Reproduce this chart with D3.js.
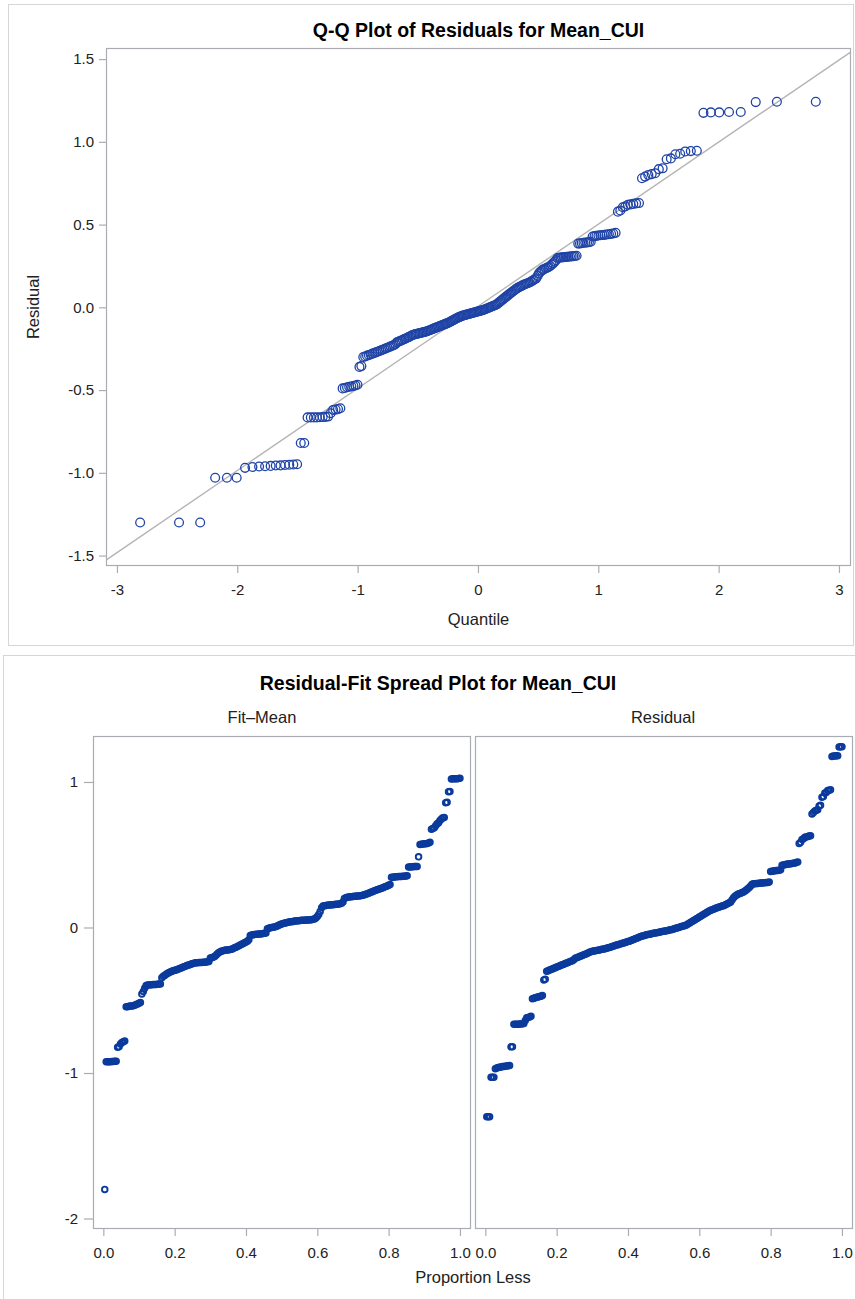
<!DOCTYPE html>
<html><head><meta charset="utf-8">
<script src="https://cdn.jsdelivr.net/npm/d3@7"></script>
<style>
body{margin:0;background:#fff;}
svg{display:block;font-family:"Liberation Sans",Arial,sans-serif;}
</style>
</head><body>
<svg id="c" width="855" height="1299"></svg>
<script>
const residuals = [
-1.30,-1.30,-1.30,-1.03,-1.03,-1.03,-0.97,-0.965,-0.962,-0.96,
-0.958,-0.956,-0.955,-0.953,-0.951,-0.95,-0.948,-0.82,-0.82,-0.665,
-0.665,-0.665,-0.665,-0.664,-0.663,-0.662,-0.66,-0.64,-0.62,-0.618,
-0.615,-0.61,-0.49,-0.487,-0.483,-0.48,-0.478,-0.475,-0.472,-0.468,
-0.36,-0.355,-0.30,-0.297,-0.292,-0.288,-0.285,-0.28,-0.276,-0.272,
-0.268,-0.264,-0.26,-0.256,-0.252,-0.248,-0.244,-0.24,-0.236,-0.232,
-0.228,-0.222,-0.212,-0.208,-0.204,-0.2,-0.196,-0.192,-0.188,-0.184,
-0.18,-0.176,-0.17,-0.167,-0.164,-0.162,-0.16,-0.158,-0.156,-0.154,
-0.152,-0.15,-0.148,-0.146,-0.143,-0.14,-0.137,-0.134,-0.13,-0.127,
-0.124,-0.121,-0.118,-0.115,-0.112,-0.109,-0.106,-0.103,-0.1,-0.097,
-0.094,-0.09,-0.086,-0.082,-0.078,-0.074,-0.07,-0.066,-0.062,-0.059,
-0.056,-0.053,-0.05,-0.048,-0.046,-0.044,-0.042,-0.04,-0.038,-0.036,
-0.034,-0.032,-0.03,-0.028,-0.026,-0.024,-0.022,-0.02,-0.018,-0.016,
-0.013,-0.01,-0.007,-0.004,-0.001,0.002,0.005,0.008,0.011,0.014,
0.018,0.024,0.03,0.036,0.042,0.048,0.054,0.06,0.066,0.072,
0.078,0.084,0.09,0.096,0.102,0.108,0.113,0.118,0.122,0.126,
0.13,0.134,0.138,0.141,0.144,0.147,0.15,0.155,0.16,0.165,
0.17,0.175,0.19,0.205,0.215,0.222,0.228,0.232,0.236,0.24,
0.244,0.25,0.258,0.266,0.275,0.285,
0.298,0.3,0.301,0.302,0.303,0.304,0.305,0.306,0.307,0.308,0.309,0.31,0.312,
0.385,0.386,0.388,0.39,0.391,0.392,0.394,0.396,
0.428,0.43,0.432,0.434,0.436,0.437,0.438,0.44,0.442,0.444,0.446,0.45,
0.578,0.585,0.605,0.61,
0.62,0.622,0.625,0.628,0.63,
0.78,0.79,
0.80,0.805,0.81,
0.835,0.84,
0.895,0.90,
0.925,0.928,
0.942,0.944,0.946,
1.175,1.178,1.178,1.18,1.18,
1.24,1.242,1.242
];

// Sorted fit minus mean
const fitMean = [
-1.80,
-0.922,-0.922,-0.922,-0.922,-0.921,-0.921,-0.92,-0.92,
-0.823,-0.82,
-0.80,
-0.79,-0.785,-0.78,
-0.545,-0.545,-0.542,-0.54,-0.54,-0.538,-0.535,-0.53,-0.525,-0.52,-0.515,
-0.457,-0.44,-0.418,
-0.398,-0.396,-0.395,-0.394,-0.393,-0.392,-0.392,-0.391,-0.39,-0.389,-0.388,
-0.345,
-0.335,-0.33,-0.322,-0.316,-0.31,-0.305,-0.30,-0.297,-0.294,-0.292,
-0.288,-0.284,-0.28,-0.276,-0.272,-0.268,-0.264,-0.26,-0.257,-0.254,-0.25,-0.247,
-0.244,-0.243,-0.242,-0.241,-0.24,-0.24,-0.239,-0.238,-0.237,-0.236,-0.234,
-0.21,-0.208,-0.205,-0.2,-0.19,-0.18,
-0.172,-0.166,-0.162,-0.159,-0.157,-0.155,-0.154,-0.153,-0.152,-0.15,
-0.145,-0.14,-0.135,-0.13,-0.125,-0.12,-0.115,-0.11,-0.105,-0.1,
-0.095,-0.085,-0.055,-0.052,-0.05,-0.048,-0.047,-0.046,-0.045,-0.044,-0.043,-0.042,-0.04,-0.038,
-0.008,-0.005,-0.002,0.0,0.002,0.004,0.006,0.01,0.015,0.02,0.024,0.027,0.029,0.032,0.035,0.037,
0.039,0.04,0.042,0.044,0.045,0.046,0.047,0.048,0.049,0.05,0.05,0.051,0.052,0.052,0.053,0.054,0.056,0.058,
0.065,0.075,0.09,0.11,0.135,
0.148,0.15,0.152,0.153,0.154,0.155,0.156,0.157,0.158,0.159,0.16,0.162,0.164,0.167,0.175,
0.2,0.205,0.208,0.21,0.211,0.212,0.213,0.214,0.215,0.216,0.217,0.218,0.22,0.222,0.225,0.228,0.232,0.236,0.24,
0.244,0.248,0.252,0.256,0.26,0.263,0.266,0.27,0.274,0.278,0.282,0.286,0.29,0.295,
0.345,0.346,0.347,0.348,0.349,0.35,0.35,0.351,0.352,0.353,0.354,0.356,
0.415,0.416,0.417,0.418,0.419,0.42,0.42,
0.486,
0.57,0.572,0.574,0.575,0.576,0.578,0.58,0.585,
0.675,0.68,0.685,
0.70,0.713,0.72,0.735,0.745,
0.754,0.756,
0.858,0.86,0.933,0.935,
1.02,1.022,1.022,1.023,1.023,1.024,1.025
];

const qqTicksX = [-3,-2,-1,0,1,2,3];
const qqTicksY = [-1.5,-1.0,-0.5,0.0,0.5,1.0,1.5];
const spreadTicksX = [0,0.2,0.4,0.6,0.8,1.0];
const spreadTicksY = [-2,-1,0,1];
const refIntercept = 0.006;   // reference line
const refSlope = 0.496;

const qqTitle = "Q-Q Plot of Residuals for Mean_CUI";
const qqXLabel = "Quantile";
const qqYLabel = "Residual";
const spreadTitle = "Residual-Fit Spread Plot for Mean_CUI";
const panelNames = ["Fit\u2013Mean", "Residual"];
const spreadXLabel = "Proportion Less";

// inverse standard normal CDF (Acklam)
function qnorm(p){
  const a=[-3.969683028665376e+01,2.209460984245205e+02,-2.759285104469687e+02,1.383577518672690e+02,-3.066479806614716e+01,2.506628277459239e+00];
  const b=[-5.447609879822406e+01,1.615858368580409e+02,-1.556989798598866e+02,6.680131188771972e+01,-1.328068155288572e+01];
  const c=[-7.784894002430293e-03,-3.223964580411365e-01,-2.400758277161838e+00,-2.549732539343734e+00,4.374664141464968e+00,2.938163982698783e+00];
  const d=[7.784695709041462e-03,3.224671290700398e-01,2.445134137142996e+00,3.754408661907416e+00];
  const pl=0.02425, ph=1-pl;
  let q,r;
  if(p<pl){q=Math.sqrt(-2*Math.log(p));return (((((c[0]*q+c[1])*q+c[2])*q+c[3])*q+c[4])*q+c[5])/((((d[0]*q+d[1])*q+d[2])*q+d[3])*q+1);}
  if(p<=ph){q=p-0.5;r=q*q;return (((((a[0]*r+a[1])*r+a[2])*r+a[3])*r+a[4])*r+a[5])*q/(((((b[0]*r+b[1])*r+b[2])*r+b[3])*r+b[4])*r+1);}
  q=Math.sqrt(-2*Math.log(1-p));return -(((((c[0]*q+c[1])*q+c[2])*q+c[3])*q+c[4])*q+c[5])/((((d[0]*q+d[1])*q+d[2])*q+d[3])*q+1);
}

const svg = d3.select("#c");
const frameCol = "#A9ADB2", outerCol = "#D6D6D6", textCol = "#222", markCol = "#1F43A6";
const tickFont = 15, labelFont = 16.5, titleFont = 19.5;

// ---------- Top: Q-Q plot ----------
svg.append("rect").attr("x",8.5).attr("y",4.5).attr("width",845).attr("height",641)
  .attr("fill","none").attr("stroke",outerCol);

const qL=106, qR=851, qT=48, qB=566;
const qx = d3.scaleLinear().domain([-3.091,3.100]).range([qL,qR]);
const qy = d3.scaleLinear().domain([-1.563,1.567]).range([qB,qT]);

svg.append("text").attr("x",(qL+qR)/2).attr("y",37).attr("text-anchor","middle")
  .attr("font-size",titleFont).attr("font-weight","bold").attr("fill","#000").text(qqTitle);

svg.append("defs").append("clipPath").attr("id","qclip").append("rect")
  .attr("x",qL).attr("y",qT).attr("width",qR-qL).attr("height",qB-qT);

const n = residuals.length;
const qqData = residuals.map((v,i)=>({q:qnorm((i+1-0.375)/(n+0.25)), v}));

// reference line
const xd = qx.domain();
svg.append("line").attr("clip-path","url(#qclip)")
  .attr("x1",qx(xd[0])).attr("y1",qy(refIntercept+refSlope*xd[0]))
  .attr("x2",qx(xd[1])).attr("y2",qy(refIntercept+refSlope*xd[1]))
  .attr("stroke","#B4B4B4").attr("stroke-width",1.4);

svg.append("g").selectAll("circle").data(qqData).join("circle")
  .attr("cx",d=>qx(d.q)).attr("cy",d=>qy(d.v)).attr("r",4.4)
  .attr("fill","none").attr("stroke",markCol).attr("stroke-width",1.3);

svg.append("rect").attr("x",qL+0.5).attr("y",qT+0.5).attr("width",qR-qL-1).attr("height",qB-qT-1)
  .attr("fill","none").attr("stroke",frameCol).attr("stroke-width",1.2);

function styleAxis(g){
  g.select(".domain").remove();
  g.selectAll(".tick line").attr("stroke",frameCol).attr("stroke-width",1.2);
  g.selectAll(".tick text").attr("fill",textCol).attr("font-size",tickFont).attr("font-family","'Liberation Sans',Arial,sans-serif");
}
svg.append("g").attr("transform",`translate(${qL},0)`)
  .call(d3.axisLeft(qy).tickValues(qqTicksY).tickSize(7).tickPadding(5).tickFormat(d=>d.toFixed(1)))
  .call(styleAxis);
svg.append("g").attr("transform",`translate(0,${qB})`)
  .call(d3.axisBottom(qx).tickValues(qqTicksX).tickSize(7).tickPadding(11).tickFormat(d=>String(d)))
  .call(styleAxis);

svg.append("text").attr("x",(qL+qR)/2).attr("y",625).attr("text-anchor","middle")
  .attr("font-size",labelFont).attr("fill",textCol).text(qqXLabel);
svg.append("text").attr("transform",`translate(39,${(qT+qB)/2}) rotate(-90)`).attr("text-anchor","middle")
  .attr("font-size",labelFont).attr("fill",textCol).text(qqYLabel);

// ---------- Bottom: Residual-Fit spread plot ----------
svg.append("rect").attr("x",3.5).attr("y",655.5).attr("width",853).attr("height",645)
  .attr("fill","none").attr("stroke",outerCol);

svg.append("text").attr("x",438).attr("y",690).attr("text-anchor","middle")
  .attr("font-size",titleFont).attr("font-weight","bold").attr("fill","#000").text(spreadTitle);

const sT=736, sB=1229;
const sy = d3.scaleLinear().domain([-2.072,1.316]).range([sB,sT]);
const panels = [
  {name:panelNames[0], data:fitMean,   L:93,  R:471, hx:262},
  {name:panelNames[1], data:residuals, L:475, R:853, hx:663}
];
panels.forEach((p,k)=>{
  const sx = d3.scaleLinear().domain([-0.029,1.031]).range([p.L,p.R]);
  const m = p.data.length;
  svg.append("text").attr("x",p.hx).attr("y",723).attr("text-anchor","middle")
    .attr("font-size",labelFont).attr("fill",textCol).text(p.name);
  svg.append("g").selectAll("circle").data(p.data).join("circle")
    .attr("cx",(d,i)=>sx((i+1)/m)).attr("cy",d=>sy(d)).attr("r",2.8)
    .attr("fill","none").attr("stroke","#0A3A9C").attr("stroke-width",1.9);
  svg.append("rect").attr("x",p.L+0.5).attr("y",sT+0.5).attr("width",p.R-p.L-1).attr("height",sB-sT-1)
    .attr("fill","none").attr("stroke",frameCol).attr("stroke-width",1.2);
  svg.append("g").attr("transform",`translate(0,${sB})`)
    .call(d3.axisBottom(sx).tickValues(spreadTicksX).tickSize(7).tickPadding(11).tickFormat(d=>d.toFixed(1)))
    .call(styleAxis);
  if(k===0){
    svg.append("g").attr("transform",`translate(${p.L},0)`)
      .call(d3.axisLeft(sy).tickValues(spreadTicksY).tickSize(9).tickPadding(6).tickFormat(d=>String(d)))
      .call(styleAxis);
  }
});
svg.append("text").attr("x",473).attr("y",1283).attr("text-anchor","middle")
  .attr("font-size",labelFont).attr("fill",textCol).text(spreadXLabel);
</script>
</body></html>
